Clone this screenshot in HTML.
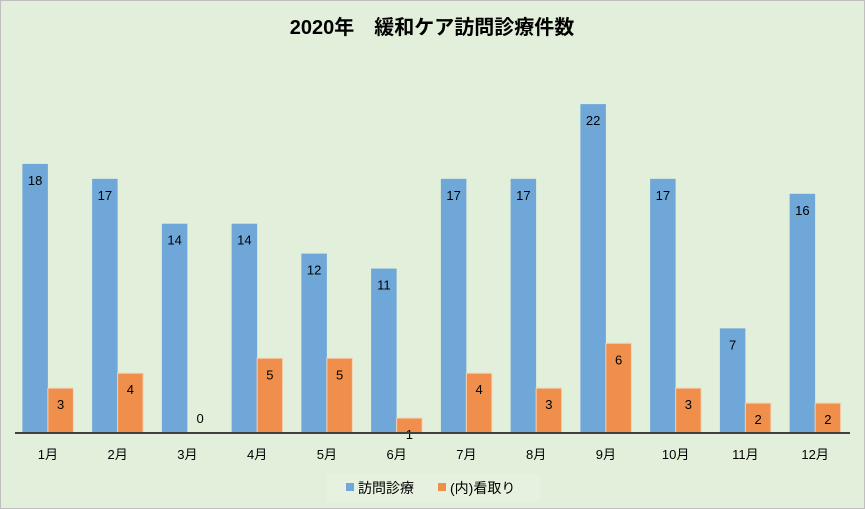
<!DOCTYPE html>
<html><head><meta charset="utf-8">
<style>
html,body{margin:0;padding:0;background:#e2efda;}
svg{display:block;font-family:"Liberation Sans","Noto Sans CJK JP",sans-serif;}
</style></head>
<body>
<svg id="chart" width="865" height="509" viewBox="0 0 865 509">
<rect x="0.5" y="0.5" width="864" height="508" fill="#e2efda" stroke="#bfbfbf"/>
<text x="432" y="34" text-anchor="middle" font-size="20" font-weight="bold" fill="#000">2020年　緩和ケア訪問診療件数</text>
<g id="bars"></g>
<line x1="15" y1="433" x2="850" y2="433" stroke="#404040" stroke-width="2"/>
<g id="xlabels"></g>
<g>
<rect x="327" y="474" width="213" height="28" fill="#e6f1df"/>
<g>
<rect x="346" y="483" width="8" height="8" fill="#6fa8d8"/>
<text x="358" y="493" font-size="14" fill="#000">訪問診療</text>
</g>
<g>
<rect x="438" y="483" width="8" height="8" fill="#ef8f4b"/>
<text x="450" y="493" font-size="14" fill="#000">(内)看取り</text>
</g>
</g>
</svg>
<script>
const categories = ["1月","2月","3月","4月","5月","6月","7月","8月","9月","10月","11月","12月"];
const visits = [18,17,14,14,12,11,17,17,22,17,7,16];
const endOfLife = [3,4,0,5,5,1,4,3,6,3,2,2];

const NS = "http://www.w3.org/2000/svg";
const plotLeft = 13, plotRight = 850, baseY = 433, unit = 14.95;
const step = (plotRight - plotLeft) / categories.length;
const barW = 25.5;
const xCenter = i => plotLeft + step * (i + 0.5);
const yScale = v => baseY - v * unit;
const bars = document.getElementById('bars');
const xl = document.getElementById('xlabels');
function mk(tag, attrs){const e=document.createElementNS(NS,tag);for(const k in attrs)e.setAttribute(k,attrs[k]);return e;}
categories.forEach((c,i)=>{
  const cx = xCenter(i);
  const v1 = visits[i], v2 = endOfLife[i];
  const r1 = mk('rect',{x:cx-barW,y:yScale(v1),width:barW,height:baseY-yScale(v1),fill:'#6fa8d8'});
  
  
  bars.appendChild(r1);
  const r2 = mk('rect',{x:cx,y:yScale(v2),width:barW,height:baseY-yScale(v2),fill:'#ef8f4b',stroke:'#f6d2b4','stroke-width':1});
  
  
  bars.appendChild(r2);
  const t1 = mk('text',{x:cx-barW/2,y:yScale(v1)+21,'text-anchor':'middle','font-size':13,fill:'#000'});
  t1.textContent = v1;
  
  
  bars.appendChild(t1);
  const t2 = mk('text',{x:cx+barW/2,y:(v2===0?baseY-10:yScale(v2)+21),'text-anchor':'middle','font-size':13,fill:'#000'});
  t2.textContent = v2;
  
  
  bars.appendChild(t2);
  const lt = mk('text',{x:cx,y:459,'text-anchor':'middle','font-size':13,fill:'#000'});
  lt.textContent = c;
  
  
  xl.appendChild(lt);
});
</script>
</body></html>
